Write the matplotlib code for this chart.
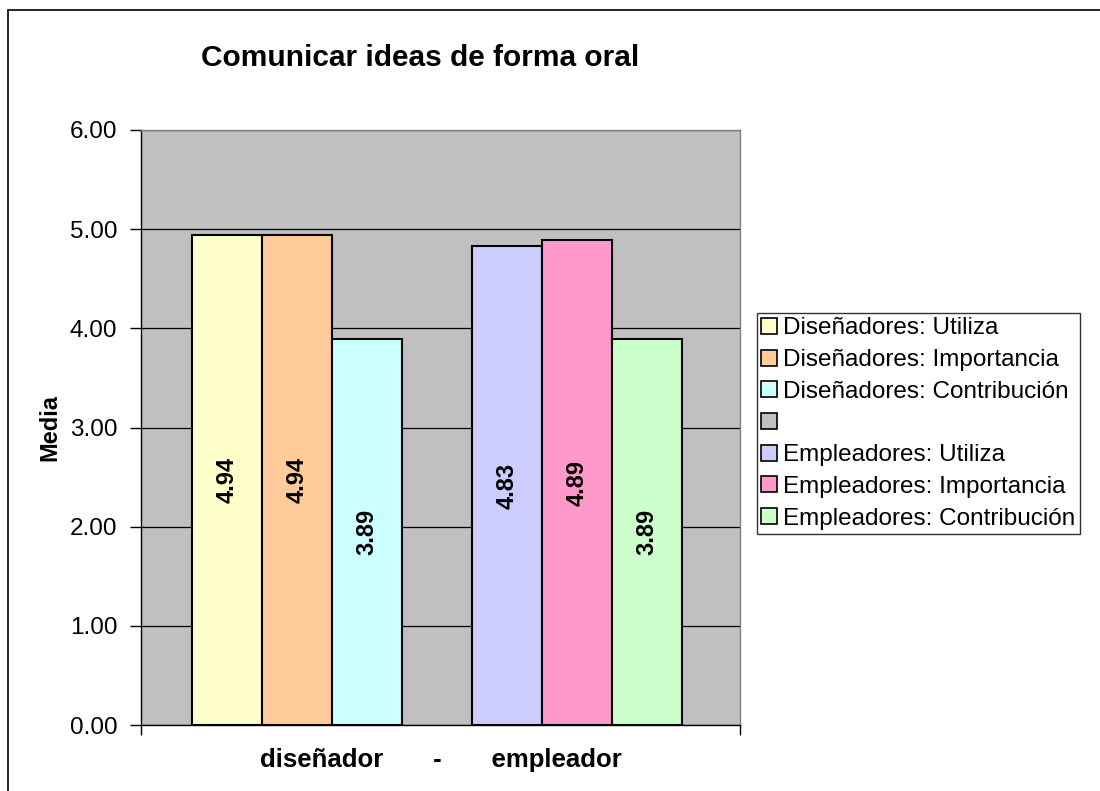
import matplotlib
matplotlib.use("Agg")
import matplotlib.pyplot as plt
from matplotlib.patches import Rectangle, Patch

series = ["Diseñadores: Utiliza", "Diseñadores: Importancia", "Diseñadores: Contribución", "",
          "Empleadores: Utiliza", "Empleadores: Importancia", "Empleadores: Contribución"]
values = [4.94, 4.94, 3.89, None, 4.83, 4.89, 3.89]
colors = ["#FFFFCC", "#FFCC99", "#CCFFFF", "#C0C0C0", "#CCCCFF", "#FF99CC", "#CCFFCC"]
yticks = [0, 1, 2, 3, 4, 5, 6]
title = "Comunicar ideas de forma oral"
xlabel = "diseñador       -       empleador"
ylabel = "Media"

plt.rcParams['font.family'] = ['Liberation Sans', 'DejaVu Sans']
W, H = 1100, 791
fig = plt.figure(figsize=(W/100, H/100), dpi=100)
fig.patch.set_facecolor("white")

# outer chart frame
fig.patches.append(Rectangle((8/W, -0.05), 1.2, 1 - 10/H + 0.05, transform=fig.transFigure,
                             fill=False, edgecolor="black", linewidth=1.2))

ax = fig.add_axes([141/W, 1 - 725/H, 599/W, 595/H])
ax.set_facecolor("#C0C0C0")

for i, (v, c) in enumerate(zip(values, colors)):
    if v is None:
        continue
    ax.bar(i, v, width=1.0, color=c, edgecolor="black", linewidth=1.5, zorder=3)
    ax.text(i, v / 2, f"{v:.2f}", rotation=90, ha="center", va="center",
            fontsize=17, fontweight="bold", zorder=4)

ax.set_xlim(-0.5 - 51/70, 6.5 + 58/70)
ax.set_ylim(0, 6)
ax.set_yticks(yticks)
ax.set_yticklabels([f"{t:.2f}" for t in yticks], fontsize=17.5)
ax.yaxis.grid(True, color="black", linewidth=0.9, zorder=1)
ax.set_axisbelow(True)
ax.tick_params(axis="y", length=8, width=1, pad=9)
ax.set_xticks([ax.get_xlim()[0], ax.get_xlim()[1]])
ax.set_xticklabels([])
ax.tick_params(axis="x", length=7, width=1, direction="out")
for s in ["top", "right"]:
    ax.spines[s].set_color("#808080")
    ax.spines[s].set_linewidth(1)
for s in ["left", "bottom"]:
    ax.spines[s].set_color("black")
    ax.spines[s].set_linewidth(1)

ax.set_xlabel(xlabel, fontsize=18.5, fontweight="bold", labelpad=6)
ax.set_ylabel(ylabel, fontsize=17, fontweight="bold", labelpad=6)
fig.text(420/W, 1 - 58/H, title, ha="center", va="center", fontsize=21.5, fontweight="bold")

handles = [Patch(facecolor=c, edgecolor="black", linewidth=1.2) for c in colors]
leg = fig.legend(handles, series, loc="upper left", bbox_to_anchor=(757/W, 1 - 313/H),
                 fontsize=17.5, frameon=True, fancybox=False, edgecolor="black",
                 handlelength=0.64, handleheight=0.64, handletextpad=0.25,
                 labelspacing=0.4, borderpad=0.18, borderaxespad=0)
leg.get_frame().set_linewidth(1)

fig.savefig("out.png", dpi=100)
